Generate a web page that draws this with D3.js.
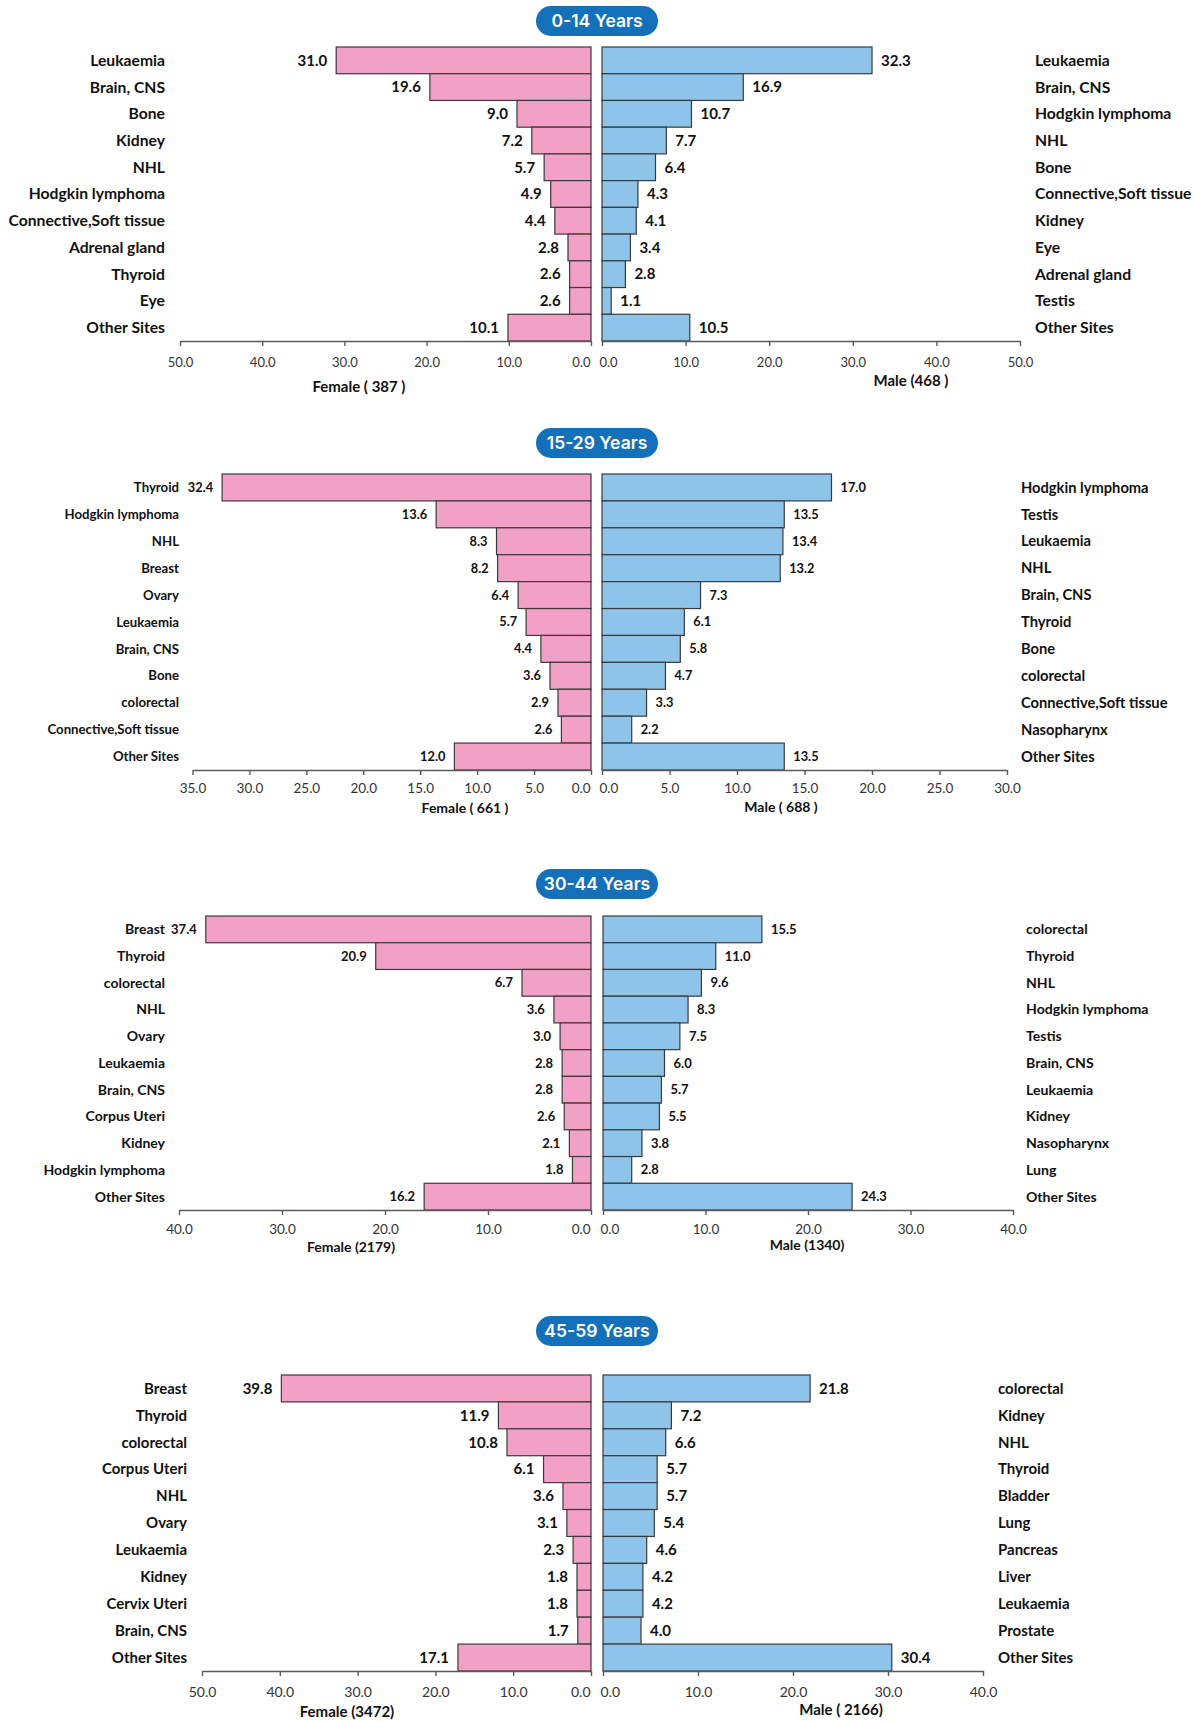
<!DOCTYPE html>
<html>
<head>
<meta charset="utf-8">
<script src="https://cdn.jsdelivr.net/npm/d3@7"></script>
<style>
  html, body { margin: 0; padding: 0; background: #ffffff; }
  svg { display: block; }
</style>
</head>
<body>
<svg id="chart" width="1204" height="1722"></svg>
<script>
// ---------------- DATA ----------------
const ageGroups = ["0-14 Years", "15-29 Years", "30-44 Years", "45-59 Years"];

const femaleSites0_14 = ["Leukaemia", "Brain, CNS", "Bone", "Kidney", "NHL", "Hodgkin lymphoma", "Connective,Soft tissue", "Adrenal gland", "Thyroid", "Eye", "Other Sites"];
const femaleValues0_14 = [31.0, 19.6, 9.0, 7.2, 5.7, 4.9, 4.4, 2.8, 2.6, 2.6, 10.1];
const maleSites0_14 = ["Leukaemia", "Brain, CNS", "Hodgkin lymphoma", "NHL", "Bone", "Connective,Soft tissue", "Kidney", "Eye", "Adrenal gland", "Testis", "Other Sites"];
const maleValues0_14 = [32.3, 16.9, 10.7, 7.7, 6.4, 4.3, 4.1, 3.4, 2.8, 1.1, 10.5];

const femaleSites15_29 = ["Thyroid", "Hodgkin lymphoma", "NHL", "Breast", "Ovary", "Leukaemia", "Brain, CNS", "Bone", "colorectal", "Connective,Soft tissue", "Other Sites"];
const femaleValues15_29 = [32.4, 13.6, 8.3, 8.2, 6.4, 5.7, 4.4, 3.6, 2.9, 2.6, 12.0];
const maleSites15_29 = ["Hodgkin lymphoma", "Testis", "Leukaemia", "NHL", "Brain, CNS", "Thyroid", "Bone", "colorectal", "Connective,Soft tissue", "Nasopharynx", "Other Sites"];
const maleValues15_29 = [17.0, 13.5, 13.4, 13.2, 7.3, 6.1, 5.8, 4.7, 3.3, 2.2, 13.5];

const femaleSites30_44 = ["Breast", "Thyroid", "colorectal", "NHL", "Ovary", "Leukaemia", "Brain, CNS", "Corpus Uteri", "Kidney", "Hodgkin lymphoma", "Other Sites"];
const femaleValues30_44 = [37.4, 20.9, 6.7, 3.6, 3.0, 2.8, 2.8, 2.6, 2.1, 1.8, 16.2];
const maleSites30_44 = ["colorectal", "Thyroid", "NHL", "Hodgkin lymphoma", "Testis", "Brain, CNS", "Leukaemia", "Kidney", "Nasopharynx", "Lung", "Other Sites"];
const maleValues30_44 = [15.5, 11.0, 9.6, 8.3, 7.5, 6.0, 5.7, 5.5, 3.8, 2.8, 24.3];

const femaleSites45_59 = ["Breast", "Thyroid", "colorectal", "Corpus Uteri", "NHL", "Ovary", "Leukaemia", "Kidney", "Cervix Uteri", "Brain, CNS", "Other Sites"];
const femaleValues45_59 = [39.8, 11.9, 10.8, 6.1, 3.6, 3.1, 2.3, 1.8, 1.8, 1.7, 17.1];
const maleSites45_59 = ["colorectal", "Kidney", "NHL", "Thyroid", "Bladder", "Lung", "Pancreas", "Liver", "Leukaemia", "Prostate", "Other Sites"];
const maleValues45_59 = [21.8, 7.2, 6.6, 5.7, 5.7, 5.4, 4.6, 4.2, 4.2, 4.0, 30.4];

const femaleTitles = ["Female ( 387 )", "Female ( 661 )", "Female (2179)", "Female (3472)"];
const maleTitles = ["Male (468 )", "Male ( 688 )", "Male (1340)", "Male ( 2166)"];
const femaleAxisMax = [50, 35, 40, 50];
const maleAxisMax = [50, 30, 40, 40];
const tickSteps = [10, 5, 10, 10];

const femaleSites = [femaleSites0_14, femaleSites15_29, femaleSites30_44, femaleSites45_59];
const femaleValues = [femaleValues0_14, femaleValues15_29, femaleValues30_44, femaleValues45_59];
const maleSites = [maleSites0_14, maleSites15_29, maleSites30_44, maleSites45_59];
const maleValues = [maleValues0_14, maleValues15_29, maleValues30_44, maleValues45_59];

// ---------------- LAYOUT ----------------
const layout = [
  { badgeY: 21, top: 47, bottom: 341, fR: [591, 180], mR: [602, 1020], tickY: 362,
    fT: [359, 387], mT: [911, 381], fLX: 165, mLX: 1035,
    fCat: 15.7, mCat: 15.7, val: 15, tick: 13, title: 15 },
  { badgeY: 443, top: 474, bottom: 770, fR: [591, 192.5], mR: [602, 1007], tickY: 788,
    fT: [465, 808], mT: [781, 807], fLX: 179, mLX: 1021,
    fCat: 13.2, mCat: 14.7, val: 12.8, tick: 13.5, title: 14 },
  { badgeY: 884, top: 916, bottom: 1210, fR: [591, 179], mR: [603, 1013], tickY: 1229,
    fT: [351, 1247], mT: [807, 1245], fLX: 165, mLX: 1026,
    fCat: 14, mCat: 14.1, val: 13, tick: 13.5, title: 14 },
  { badgeY: 1331, top: 1375, bottom: 1671, fR: [591, 202], mR: [603, 983], tickY: 1692,
    fT: [347, 1712], mT: [841, 1710], fLX: 187, mLX: 998,
    fCat: 15, mCat: 15, val: 15, tick: 14, title: 15 }
];

const FEMALE_FILL = "#F3A0C6";
const MALE_FILL = "#8EC4EA";
const BAR_STROKE = "#3a3a3a";
const AXIS_COLOR = "#5a5a5a";
const FONT = "Lato, 'Open Sans', sans-serif";

const svg = d3.select("#chart");

ageGroups.forEach((age, i) => {
  const L = layout[i];
  const g = svg.append("g");

  // badge
  const badge = g.append("g").attr("transform", `translate(597,${L.badgeY})`);
  badge.append("rect")
    .attr("x", -61).attr("y", -15).attr("width", 122).attr("height", 30)
    .attr("rx", 15).attr("ry", 15).attr("fill", "#1570BA");
  badge.append("text")
    .attr("text-anchor", "middle").attr("dy", "0.36em")
    .attr("fill", "#ffffff").attr("font-family", "Inter, 'Open Sans', sans-serif")
    .attr("font-weight", 600).attr("font-size", 17.5)
    .text(age);

  const fData = femaleSites[i].map((s, k) => ({ site: s, value: femaleValues[i][k], idx: k }));
  const mData = maleSites[i].map((s, k) => ({ site: s, value: maleValues[i][k], idx: k }));

  const y = d3.scaleBand().domain(d3.range(fData.length)).range([L.top, L.bottom]).padding(0);
  const xF = d3.scaleLinear().domain([0, femaleAxisMax[i]]).range(L.fR);
  const xM = d3.scaleLinear().domain([0, maleAxisMax[i]]).range(L.mR);

  // female bars
  g.append("g").selectAll("rect").data(fData).join("rect")
    .attr("x", d => xF(d.value)).attr("y", d => y(d.idx))
    .attr("width", d => xF(0) - xF(d.value)).attr("height", y.bandwidth())
    .attr("fill", FEMALE_FILL).attr("stroke", BAR_STROKE).attr("stroke-width", 1.2);

  // male bars
  g.append("g").selectAll("rect").data(mData).join("rect")
    .attr("x", xM(0)).attr("y", d => y(d.idx))
    .attr("width", d => xM(d.value) - xM(0)).attr("height", y.bandwidth())
    .attr("fill", MALE_FILL).attr("stroke", BAR_STROKE).attr("stroke-width", 1.2);

  // axes
  const tickSize = 5;
  const pad = (L.tickY - L.bottom) - 0.35 * L.tick - tickSize;
  const fTicks = d3.range(0, femaleAxisMax[i] + tickSteps[i] / 2, tickSteps[i]);
  const mTicks = d3.range(0, maleAxisMax[i] + tickSteps[i] / 2, tickSteps[i]);
  const fAxis = g.append("g").attr("transform", `translate(0,${L.bottom})`)
    .call(d3.axisBottom(xF).tickValues(fTicks).tickFormat(d3.format(".1f"))
      .tickSize(tickSize).tickSizeOuter(0).tickPadding(pad));
  const mAxis = g.append("g").attr("transform", `translate(0,${L.bottom})`)
    .call(d3.axisBottom(xM).tickValues(mTicks).tickFormat(d3.format(".1f"))
      .tickSize(tickSize).tickSizeOuter(0).tickPadding(pad));
  [fAxis, mAxis].forEach(ax => {
    ax.select(".domain").attr("stroke", AXIS_COLOR).attr("stroke-width", 1.4);
    ax.selectAll(".tick line").attr("stroke", AXIS_COLOR).attr("stroke-width", 1.4);
    ax.selectAll(".tick text").attr("fill", "#333333")
      .attr("font-family", FONT).attr("font-size", L.tick).attr("font-weight", 400);
  });
  // zero labels sit beside the shared centre gap
  fAxis.selectAll(".tick").filter(d => d === 0).select("text")
    .attr("text-anchor", "end").attr("x", -1);
  mAxis.selectAll(".tick").filter(d => d === 0).select("text")
    .attr("text-anchor", "start").attr("x", -3);

  // category labels
  g.append("g").selectAll("text").data(fData).join("text")
    .attr("x", L.fLX).attr("y", d => y(d.idx) + y.bandwidth() / 2).attr("dy", "0.35em")
    .attr("text-anchor", "end").attr("font-family", FONT).attr("font-weight", 700)
    .attr("font-size", L.fCat).attr("fill", "#111111").text(d => d.site);
  g.append("g").selectAll("text").data(mData).join("text")
    .attr("x", L.mLX).attr("y", d => y(d.idx) + y.bandwidth() / 2).attr("dy", "0.35em")
    .attr("text-anchor", "start").attr("font-family", FONT).attr("font-weight", 700)
    .attr("font-size", L.mCat).attr("fill", "#111111").text(d => d.site);

  // value labels
  g.append("g").selectAll("text").data(fData).join("text")
    .attr("x", d => xF(d.value) - 9).attr("y", d => y(d.idx) + y.bandwidth() / 2).attr("dy", "0.35em")
    .attr("text-anchor", "end").attr("font-family", FONT).attr("font-weight", 700)
    .attr("font-size", L.val).attr("fill", "#111111").text(d => d3.format(".1f")(d.value));
  g.append("g").selectAll("text").data(mData).join("text")
    .attr("x", d => xM(d.value) + 9).attr("y", d => y(d.idx) + y.bandwidth() / 2).attr("dy", "0.35em")
    .attr("text-anchor", "start").attr("font-family", FONT).attr("font-weight", 700)
    .attr("font-size", L.val).attr("fill", "#111111").text(d => d3.format(".1f")(d.value));

  // axis titles
  g.append("text").attr("x", L.fT[0]).attr("y", L.fT[1]).attr("dy", "0.35em")
    .attr("text-anchor", "middle").attr("font-family", FONT).attr("font-weight", 700)
    .attr("font-size", L.title).attr("fill", "#111111").text(femaleTitles[i]);
  g.append("text").attr("x", L.mT[0]).attr("y", L.mT[1]).attr("dy", "0.35em")
    .attr("text-anchor", "middle").attr("font-family", FONT).attr("font-weight", 700)
    .attr("font-size", L.title).attr("fill", "#111111").text(maleTitles[i]);
});
</script>
</body>
</html>
